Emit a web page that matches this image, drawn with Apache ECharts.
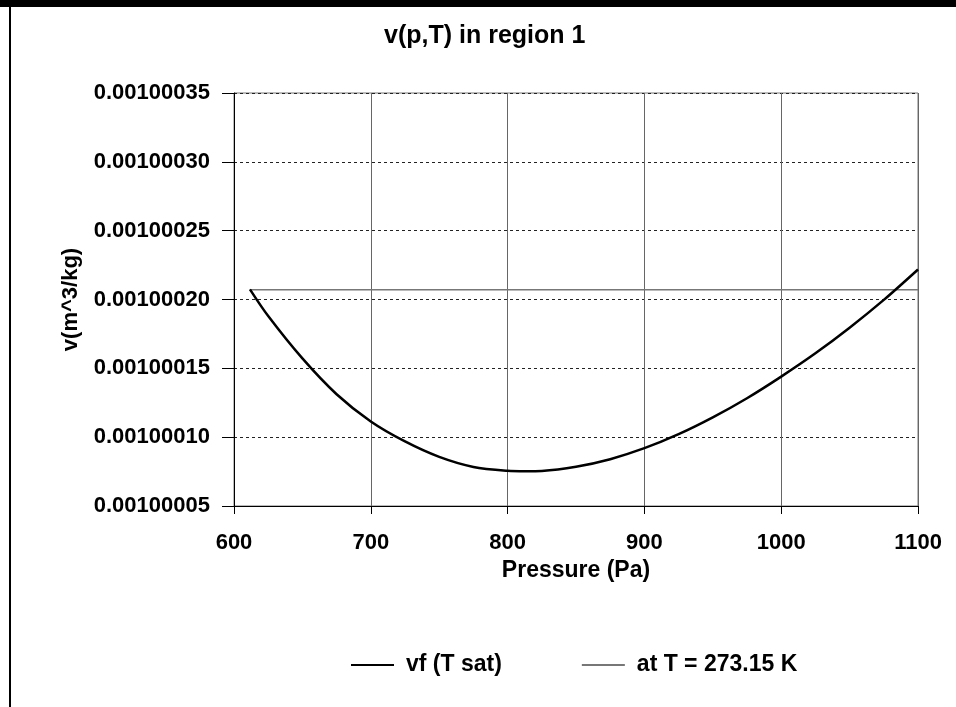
<!DOCTYPE html>
<html>
<head>
<meta charset="utf-8">
<script src="https://cdn.jsdelivr.net/npm/echarts@6/dist/echarts.min.js"></script>
<style>
html,body{margin:0;padding:0;background:#fff;}
#chart{width:956px;height:707px;}
</style>
</head>
<body>
<div id="chart"></div>
<script>
// Saturated liquid specific volume along the saturation line
const satPressure = [611.657, 625, 650, 675, 700, 725, 750, 775, 800, 813, 825, 850, 875, 900, 925, 950, 975, 1000, 1025, 1050, 1075, 1100];
const satVolume = [
  0.0010002074, 0.0010001880, 0.0010001572, 0.0010001312, 0.0010001114,
  0.0010000969, 0.0010000857, 0.0010000784, 0.0010000756, 0.0010000753,
  0.0010000755, 0.0010000785, 0.0010000840, 0.0010000920, 0.0010001022,
  0.0010001144, 0.0010001283, 0.0010001440, 0.0010001609, 0.0010001795,
  0.0010001997, 0.0010002218
];
// Isotherm at T = 273.15 K
const isoPressure = [611.657, 1100];
const isoVolume = [0.00100020715, 0.00100020715];

const seriesNames = ['vf (T sat)', 'at T = 273.15 K'];
const titleText = 'v(p,T) in region 1';
const xName = 'Pressure (Pa)';
const yName = 'v(m^3/kg)';
const xMin = 600, xMax = 1100, xStep = 100;
const yMin = 0.00100005, yMax = 0.00100035, yStep = 0.00000005;

const FONT = '"Liberation Sans", Arial, sans-serif';

const chart = echarts.init(document.getElementById('chart'), null, {renderer: 'canvas'});
chart.setOption({
  animation: false,
  backgroundColor: '#ffffff',
  textStyle: {fontFamily: FONT},
  title: {
    text: titleText,
    left: 384,
    top: 24,
    padding: 0,
    textStyle: {fontFamily: FONT, fontWeight: 'bold', fontSize: 25, color: '#000'}
  },
  graphic: [
    {type: 'rect', shape: {x: 0, y: 0, width: 956, height: 7}, style: {fill: '#000'}, silent: true},
    {type: 'rect', shape: {x: 9, y: 7, width: 2, height: 700}, style: {fill: '#000'}, silent: true}
  ],
  legend: {
    left: 351,
    top: 653,
    padding: 0,
    itemWidth: 43,
    itemHeight: 2,
    itemGap: 80,
    icon: 'rect',
    data: seriesNames,
    textStyle: {fontFamily: FONT, fontWeight: 'bold', fontSize: 23, color: '#000', padding: [0, 0, 0, 7], lineHeight: 24}
  },
  grid: {
    left: 234, top: 93, right: 38, bottom: 201,
    show: true, borderColor: '#777', borderWidth: 1, backgroundColor: 'transparent'
  },
  xAxis: {
    type: 'value',
    min: xMin, max: xMax, interval: xStep,
    name: xName,
    nameLocation: 'middle',
    nameGap: 52,
    nameTextStyle: {fontFamily: FONT, fontWeight: 'bold', fontSize: 23, color: '#000', verticalAlign: 'top'},
    axisLine: {show: true, onZero: false, lineStyle: {color: '#000', width: 1}},
    axisTick: {show: true, length: 8, lineStyle: {color: '#000'}},
    axisLabel: {
      margin: 26, fontFamily: FONT, fontWeight: 'bold', fontSize: 22, color: '#000',
      formatter: function (v) { return String(v); }
    },
    splitLine: {show: true, lineStyle: {color: '#666', width: 1, type: 'solid'}}
  },
  yAxis: {
    type: 'value',
    min: yMin, max: yMax, interval: yStep,
    name: yName,
    nameLocation: 'middle',
    nameGap: 152,
    nameRotate: 90,
    nameTextStyle: {fontFamily: FONT, fontWeight: 'bold', fontSize: 22, color: '#000'},
    axisLine: {show: true, onZero: false, lineStyle: {color: '#000', width: 1}},
    axisTick: {show: true, length: 12, lineStyle: {color: '#000'}},
    axisLabel: {
      margin: 24, fontFamily: FONT, fontWeight: 'bold', fontSize: 22, color: '#000',
      formatter: function (v) { return v.toFixed(8); }
    },
    splitLine: {show: true, lineStyle: {color: '#222', width: 1, type: [3, 3]}}
  },
  series: [
    {
      name: seriesNames[0],
      type: 'line',
      data: satPressure.map((p, i) => [p, satVolume[i]]),
      symbol: 'none',
      smooth: 0.3,
      lineStyle: {color: '#000', width: 2.5},
      itemStyle: {color: '#000'},
      z: 3
    },
    {
      name: seriesNames[1],
      type: 'line',
      data: isoPressure.map((p, i) => [p, isoVolume[i]]),
      symbol: 'none',
      lineStyle: {color: '#777', width: 1.5},
      itemStyle: {color: '#777'},
      z: 2
    }
  ]
});
</script>
</body>
</html>
